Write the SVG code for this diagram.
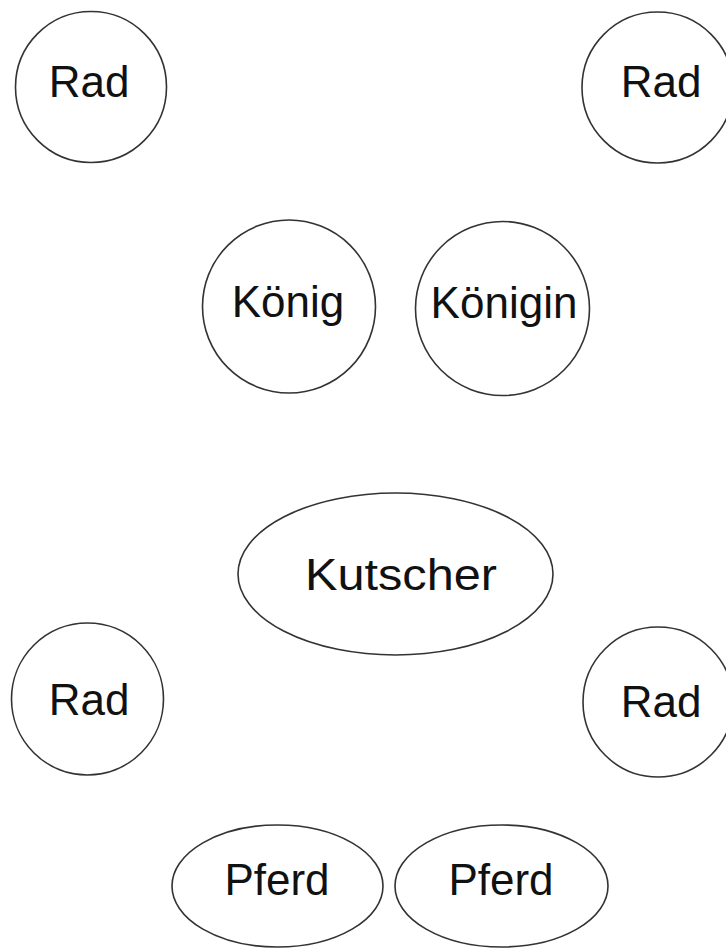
<svg xmlns="http://www.w3.org/2000/svg" width="726" height="949" viewBox="0 0 726 949">
<style>
.n{fill:#fff;stroke:#333;stroke-width:1.6}
.t{font-family:"Comic Sans MS","Liberation Sans",sans-serif;font-size:44px;fill:#111;text-anchor:middle}
</style>
<rect width="726" height="949" fill="#fff"/>
<g id="connectors"/>
<g id="rad1"><circle class="n" cx="91" cy="87" r="75.5"/><text class="t" x="89" y="97">Rad</text></g>
<g id="rad2"><circle class="n" cx="657.5" cy="87.5" r="75.5"/><text class="t" x="661" y="97">Rad</text></g>
<g id="koenig"><circle class="n" cx="289" cy="306.5" r="86.5"/><text class="t" x="288" y="317">König</text></g>
<g id="koenigin"><circle class="n" cx="502.5" cy="308.5" r="87"/><text class="t" x="504" y="318">Königin</text></g>
<g id="kutscher"><ellipse class="n" cx="395.5" cy="574" rx="157.5" ry="81"/><text class="t" x="401" y="590" textLength="192" lengthAdjust="spacingAndGlyphs">Kutscher</text></g>
<g id="rad3"><circle class="n" cx="87.5" cy="699" r="76"/><text class="t" x="89" y="715">Rad</text></g>
<g id="rad4"><circle class="n" cx="658" cy="702" r="75"/><text class="t" x="661" y="717">Rad</text></g>
<g id="pferd1"><ellipse class="n" cx="277.5" cy="886" rx="105.5" ry="61"/><text class="t" x="277" y="895">Pferd</text></g>
<g id="pferd2"><ellipse class="n" cx="501.5" cy="886" rx="106.5" ry="61"/><text class="t" x="501" y="895">Pferd</text></g>
</svg>
